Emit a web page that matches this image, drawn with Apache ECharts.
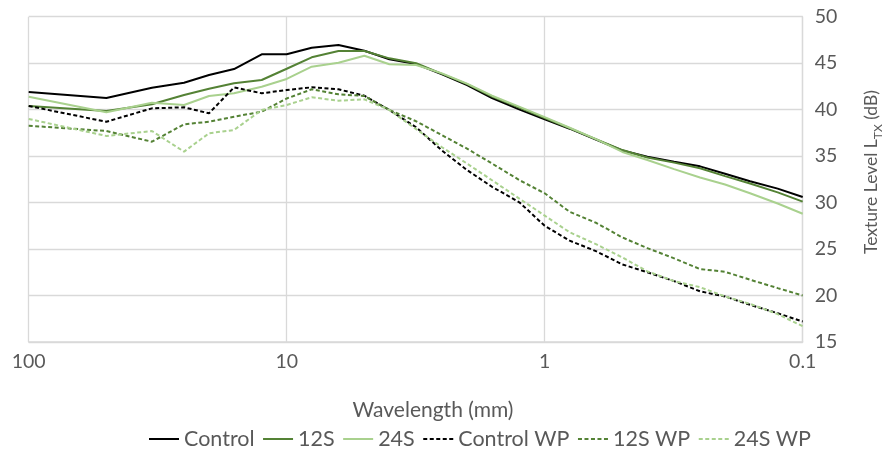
<!DOCTYPE html>
<html>
<head>
<meta charset="utf-8">
<script src="https://cdn.jsdelivr.net/npm/echarts@6/dist/echarts.min.js"></script>
<style>
  html, body { margin: 0; padding: 0; background: #ffffff; }
  #chart { width: 883px; height: 452px; }
</style>
</head>
<body>
<div id="chart"></div>
<script>
// Wavelength (mm) of each data point
const wavelengths = [100, 50, 33.3, 25, 20, 16, 12.5, 10, 8, 6.3, 5, 4, 3.15, 2.5, 2, 1.6, 1.25, 1, 0.8, 0.63, 0.5, 0.4, 0.315, 0.25, 0.2, 0.16, 0.125, 0.1];

// Texture level (dB) per series
const control   = [41.9, 41.25, 42.36, 42.9, 43.73, 44.37, 45.95, 45.95, 46.66, 46.96, 46.34, 45.42, 44.91, 43.8, 42.65, 41.25, 40.0, 38.95, 37.95, 36.75, 35.6, 34.94, 34.4, 33.9, 33.1, 32.3, 31.5, 30.6];
const s12       = [40.39, 39.85, 40.58, 41.58, 42.25, 42.83, 43.19, 44.4, 45.63, 46.31, 46.31, 45.52, 44.99, 43.85, 42.75, 41.4, 40.2, 39.1, 38.0, 36.8, 35.65, 34.85, 34.3, 33.7, 32.85, 32.05, 31.1, 30.1];
const s24       = [41.39, 39.71, 40.75, 40.5, 41.47, 41.76, 42.47, 43.3, 44.62, 45.05, 45.8, 44.88, 44.8, 43.9, 42.8, 41.5, 40.3, 39.2, 38.05, 36.8, 35.45, 34.58, 33.6, 32.7, 31.95, 31.0, 29.9, 28.8];
const controlWP = [40.39, 38.7, 40.14, 40.25, 39.61, 42.4, 41.76, 42.11, 42.4, 42.19, 41.5, 39.96, 38.1, 35.6, 33.5, 31.7, 30.0, 27.5, 25.9, 24.75, 23.35, 22.5, 21.55, 20.45, 19.9, 19.0, 18.1, 17.2];
const s12WP     = [38.27, 37.7, 36.55, 38.42, 38.7, 39.24, 39.78, 41.2, 42.19, 41.65, 41.47, 39.96, 38.75, 37.25, 35.8, 34.2, 32.4, 31.0, 29.0, 27.8, 26.25, 25.1, 24.0, 22.85, 22.55, 21.7, 20.8, 20.0];
const s24WP     = [39.0, 37.17, 37.7, 35.48, 37.46, 37.81, 39.96, 40.5, 41.33, 40.96, 41.11, 39.96, 37.9, 35.95, 34.2, 32.4, 30.4, 28.6, 26.8, 25.5, 24.1, 22.6, 21.55, 20.9, 19.9, 19.1, 18.0, 16.7];

const seriesNames = ['Control', '12S', '24S', 'Control WP', '12S WP', '24S WP'];
const seriesValues = [control, s12, s24, controlWP, s12WP, s24WP];

// Axis settings
const xMin = 0.1, xMax = 100;
const yMin = 15, yMax = 50, yStep = 5;
const xTitle = 'Wavelength (mm)';
const yTitleMain = 'Texture Level L';
const yTitleSub = 'TX';
const yTitleTail = ' (dB)';

const colors = ['#000000', '#548235', '#A9D18E', '#000000', '#548235', '#A9D18E'];
const dashed = [false, false, false, true, true, true];

const FONT = 'Lato, "Open Sans", sans-serif';
const TXT = '#595959';
const GRID = '#D9D9D9';

const chart = echarts.init(document.getElementById('chart'), null, { renderer: 'canvas' });

const series = seriesNames.map((name, i) => ({
  name: name,
  type: 'line',
  symbol: 'none',
  smooth: false,
  data: wavelengths.map((w, j) => [w, seriesValues[i][j]]),
  lineStyle: {
    color: colors[i],
    width: 2,
    type: dashed[i] ? [4, 2.5] : 'solid',
    cap: 'butt'
  },
  itemStyle: { color: colors[i] },
  emphasis: { disabled: true },
  animation: false
}));

const option = {
  animation: false,
  backgroundColor: '#ffffff',
  textStyle: { fontFamily: FONT },
  grid: { left: 28.7, right: 80.3, top: 16.7, bottom: 110, containLabel: false },
  xAxis: {
    type: 'log',
    logBase: 10,
    min: xMin,
    max: xMax,
    inverse: true,
    axisLine: { show: true, lineStyle: { color: GRID, width: 1.5 } },
    axisTick: { show: false },
    minorTick: { show: false },
    splitLine: { show: true, lineStyle: { color: GRID, width: 1.3 } },
    axisLabel: {
      color: TXT,
      fontFamily: FONT,
      fontSize: 19.5,
      margin: 10,
      formatter: v => String(parseFloat(Number(v).toPrecision(6)))
    }
  },
  yAxis: {
    type: 'value',
    position: 'right',
    min: yMin,
    max: yMax,
    interval: yStep,
    axisLine: { show: true, lineStyle: { color: GRID, width: 1.3 } },
    axisTick: { show: false },
    splitLine: { show: true, lineStyle: { color: GRID, width: 1.3 } },
    axisLabel: {
      color: TXT,
      fontFamily: FONT,
      fontSize: 19.5,
      margin: 12
    }
  },
  legend: {
    data: seriesNames,
    left: 148,
    top: 428,
    padding: 0,
    itemWidth: 30,
    itemHeight: 14,
    itemGap: 7.5,
    selectedMode: false,
    itemStyle: { opacity: 0 },
    textStyle: { color: TXT, fontFamily: FONT, fontSize: 21.5 }
  },
  graphic: [
    {
      type: 'text',
      x: 433,
      y: 410,
      style: {
        text: xTitle,
        fill: TXT,
        font: '21px ' + FONT,
        align: 'center',
        verticalAlign: 'middle'
      }
    },
    {
      type: 'text',
      x: 871,
      y: 172,
      rotation: Math.PI / 2,
      style: {
        text: yTitleMain + '{sub|' + yTitleSub + '}' + yTitleTail,
        fill: TXT,
        fontFamily: FONT,
        fontSize: 17.5,
        align: 'center',
        verticalAlign: 'middle',
        rich: {
          sub: { fontFamily: FONT, fontSize: 12, fill: TXT, verticalAlign: 'bottom', lineHeight: 26 }
        }
      }
    }
  ],
  series: series
};

chart.setOption(option);
</script>
</body>
</html>
